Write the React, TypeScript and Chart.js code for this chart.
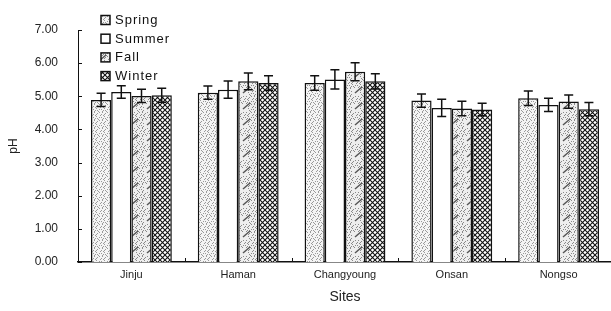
import React, { useEffect, useRef } from "react";
import { Chart, registerables } from "chart.js";

Chart.register(...registerables);

const sites = ["Jinju", "Haman", "Changyoung", "Onsan", "Nongso"];
const seasons = ["Spring", "Summer", "Fall", "Winter"];
const spring = [4.89, 5.11, 5.4, 4.87, 4.94];
const summer = [5.13, 5.2, 5.51, 4.65, 4.74];
const fall = [5.01, 5.45, 5.74, 4.63, 4.84];
const winter = [5.03, 5.4, 5.45, 4.6, 4.61];
const springErr = [0.2, 0.2, 0.22, 0.2, 0.22];
const summerErr = [0.19, 0.26, 0.29, 0.26, 0.2];
const fallErr = [0.2, 0.25, 0.27, 0.22, 0.2];
const winterErr = [0.21, 0.22, 0.23, 0.19, 0.2];
const yTicks = [0, 1, 2, 3, 4, 5, 6, 7];

const FONT = "Arial, 'Liberation Sans', sans-serif";

function makeTile(w: number, h: number, draw: (c: CanvasRenderingContext2D) => void) {
  const cv = document.createElement("canvas");
  cv.width = w;
  cv.height = h;
  const c = cv.getContext("2d")!;
  draw(c);
  return c.createPattern(cv, "repeat")!;
}

const stippleDots: [number, number][] = [
  [1, 1], [5, 2], [3, 5], [7, 6], [0, 4], [6, 0], [2, 7], [4, 3],
  [3, 0], [7, 3], [1, 6], [5, 5], [0, 2], [6, 7],
];

function springPattern() {
  return makeTile(8, 8, (c) => {
    c.fillStyle = "#f4f4f4";
    c.fillRect(0, 0, 8, 8);
    c.fillStyle = "#9a9a9a";
    for (const [x, y] of stippleDots) c.fillRect(x, y, 1, 1);
  });
}

function fallPattern() {
  return makeTile(16, 16, (c) => {
    c.fillStyle = "#eeeeee";
    c.fillRect(0, 0, 16, 16);
    c.fillStyle = "#8a8a8a";
    for (const [x, y] of stippleDots) {
      c.fillRect(x, y, 1, 1);
      c.fillRect(x + 8, y + 8, 1, 1);
      c.fillRect(x + 8, y, 1, 1);
    }
    c.strokeStyle = "#555";
    c.lineWidth = 1.5;
    c.beginPath();
    c.moveTo(3, 13);
    c.lineTo(10, 7);
    c.stroke();
  });
}

function winterPattern() {
  return makeTile(5, 5, (c) => {
    c.fillStyle = "#fff";
    c.fillRect(0, 0, 5, 5);
    c.strokeStyle = "#111";
    c.lineWidth = 1.1;
    c.beginPath();
    c.moveTo(0, 0);
    c.lineTo(5, 5);
    c.moveTo(0, 5);
    c.lineTo(5, 0);
    c.stroke();
  });
}

export default function App() {
  const ref = useRef<HTMLCanvasElement | null>(null);

  useEffect(() => {
    document.body.style.margin = "0";
    document.body.style.overflow = "hidden";
    const fills = [springPattern(), "#ffffff", fallPattern(), winterPattern()];
    const values = [spring, summer, fall, winter];
    const errs = [springErr, summerErr, fallErr, winterErr];

    const extras = {
      id: "extras",
      afterDatasetsDraw(chart: any) {
        const ctx = chart.ctx as CanvasRenderingContext2D;
        const ys = chart.scales.y;
        const xs = chart.scales.x;
        const area = chart.chartArea;
        ctx.save();
        // error bars
        ctx.strokeStyle = "#111";
        ctx.lineWidth = 1.5;
        values.forEach((vals, i) => {
          const meta = chart.getDatasetMeta(i);
          meta.data.forEach((bar: any, j: number) => {
            const x = bar.x;
            const t = ys.getPixelForValue(vals[j] + errs[i][j]);
            const b = ys.getPixelForValue(vals[j] - errs[i][j]);
            ctx.beginPath();
            ctx.moveTo(x, t);
            ctx.lineTo(x, b);
            ctx.moveTo(x - 4.5, t);
            ctx.lineTo(x + 4.5, t);
            ctx.moveTo(x - 4.5, b);
            ctx.lineTo(x + 4.5, b);
            ctx.stroke();
          });
        });
        // inward tick marks
        ctx.lineWidth = 1;
        yTicks.forEach((v) => {
          const y = Math.round(ys.getPixelForValue(v)) + 0.5;
          ctx.beginPath();
          ctx.moveTo(area.left, y);
          ctx.lineTo(area.left + 4, y);
          ctx.stroke();
        });
        for (let k = 1; k < sites.length; k++) {
          const x = Math.round((xs.getPixelForValue(k - 1) + xs.getPixelForValue(k)) / 2) + 0.5;
          ctx.beginPath();
          ctx.moveTo(x, area.bottom);
          ctx.lineTo(x, area.bottom - 4);
          ctx.stroke();
        }
        // legend
        ctx.font = `13px ${FONT}`;
        (ctx as any).letterSpacing = "1px";
        ctx.textBaseline = "middle";
        ctx.textAlign = "left";
        seasons.forEach((s, i) => {
          const cy = 20 + i * 18.7;
          ctx.fillStyle = fills[i] as any;
          ctx.fillRect(101, cy - 4.5, 9, 9);
          ctx.strokeStyle = "#111";
          ctx.lineWidth = 1.5;
          ctx.strokeRect(101, cy - 4.5, 9, 9);
          ctx.fillStyle = "#111";
          ctx.fillText(s, 115, cy + 0.5);
        });
        ctx.restore();
      },
    };

    const chart = new Chart(ref.current!, {
      type: "bar",
      data: {
        labels: sites,
        datasets: seasons.map((s, i) => ({
          label: s,
          data: values[i],
          backgroundColor: fills[i] as any,
          borderColor: "#111",
          borderWidth: 1.5,
          borderSkipped: "bottom",
          categoryPercentage: 0.757,
          barPercentage: 1.0,
        })),
      },
      options: {
        animation: false,
        responsive: false,
        maintainAspectRatio: false,
        layout: { padding: { top: 30, right: 8, left: 0, bottom: 0 } },
        plugins: {
          legend: { display: false },
          tooltip: { enabled: false },
        },
        scales: {
          x: {
            grid: { display: false, drawTicks: false },
            border: { display: true, color: "#111", width: 1.5 },
            ticks: { color: "#222", font: { family: FONT, size: 11 }, padding: 6 },
            title: {
              display: true,
              text: "Sites",
              color: "#222",
              font: { family: FONT, size: 14 },
              padding: { top: 6, bottom: 5 },
            },
            afterFit: (s: any) => {
              s.height = 49;
            },
          },
          y: {
            min: 0,
            max: 7,
            grid: { display: false, drawTicks: false },
            border: { display: true, color: "#111", width: 1 },
            ticks: {
              stepSize: 1,
              color: "#222",
              font: { family: FONT, size: 12 },
              padding: 20,
              callback: (v: any) => Number(v).toFixed(2),
            },
            title: {
              display: true,
              text: "pH",
              color: "#222",
              font: { family: FONT, size: 12 },
              padding: { top: 6, bottom: 0 },
            },
            afterFit: (s: any) => {
              s.width = 78;
            },
          },
        },
      },
      plugins: [extras],
    });
    return () => chart.destroy();
  }, []);

  return (
    <div style={{ position: "absolute", left: 0, top: 0, width: 620, height: 311 }}>
      <canvas ref={ref} width={620} height={311} style={{ width: 620, height: 311 }} />
    </div>
  );
}
